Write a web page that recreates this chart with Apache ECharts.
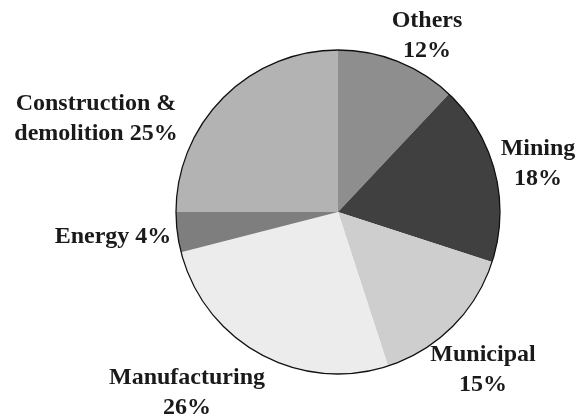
<!DOCTYPE html>
<html>
<head>
<meta charset="utf-8">
<script src="https://cdn.jsdelivr.net/npm/echarts@6/dist/echarts.min.js"></script>
<style>
  html, body { margin: 0; padding: 0; background: #fff; }
  #chart { width: 576px; height: 419px; }
</style>
</head>
<body>
<div id="chart"></div>
<script>
// Sector shares, listed clockwise from 12 o'clock
const sectors = ['Others', 'Mining', 'Municipal', 'Manufacturing', 'Energy', 'Construction &\ndemolition'];
const shares = [12, 18, 15, 26, 4, 25];
// Whether the percentage goes on its own line under the name
const breakBeforeValue = [true, true, true, true, false, false];

const sliceColors = ['#8e8e8e', '#404040', '#cecece', '#ececec', '#7e7e7e', '#b3b3b3'];

// Label anchor points (centre of each text block)
const labelSpots = [
  [427, 36],
  [538, 164],
  [483, 370],
  [187, 393],
  [113, 237],
  [96, 119]
];

const chart = echarts.init(document.getElementById('chart'), null, { renderer: 'canvas' });

const center = [338, 212];
const radius = 162;

chart.setOption({
  animation: false,
  series: [
    {
      type: 'pie',
      center: center,
      radius: radius,
      startAngle: 90,
      clockwise: true,
      avoidLabelOverlap: false,
      data: sectors.map((name, i) => ({
        name: name,
        value: shares[i],
        itemStyle: { color: sliceColors[i] }
      })),
      itemStyle: { borderWidth: 0 },
      label: {
        show: true,
        position: 'outside',
        formatter: (p) => p.name + (breakBeforeValue[p.dataIndex] ? '\n' : ' ') + p.value + '%',
        fontFamily: 'Liberation Serif',
        fontWeight: 'bold',
        fontSize: 24,
        lineHeight: 30,
        color: '#1a1a1a',
        align: 'center'
      },
      labelLine: { show: false },
      labelLayout: (params) => ({
        x: labelSpots[params.dataIndex][0],
        y: labelSpots[params.dataIndex][1],
        align: 'center',
        verticalAlign: 'middle'
      }),
      emphasis: { disabled: true }
    },
    {
      // outline ring around the whole pie
      type: 'pie',
      center: center,
      radius: radius,
      silent: true,
      label: { show: false },
      labelLine: { show: false },
      data: [{ value: 1 }],
      itemStyle: { color: 'rgba(0,0,0,0)', borderColor: '#111', borderWidth: 1.3 },
      emphasis: { disabled: true }
    }
  ]
});
</script>
</body>
</html>
